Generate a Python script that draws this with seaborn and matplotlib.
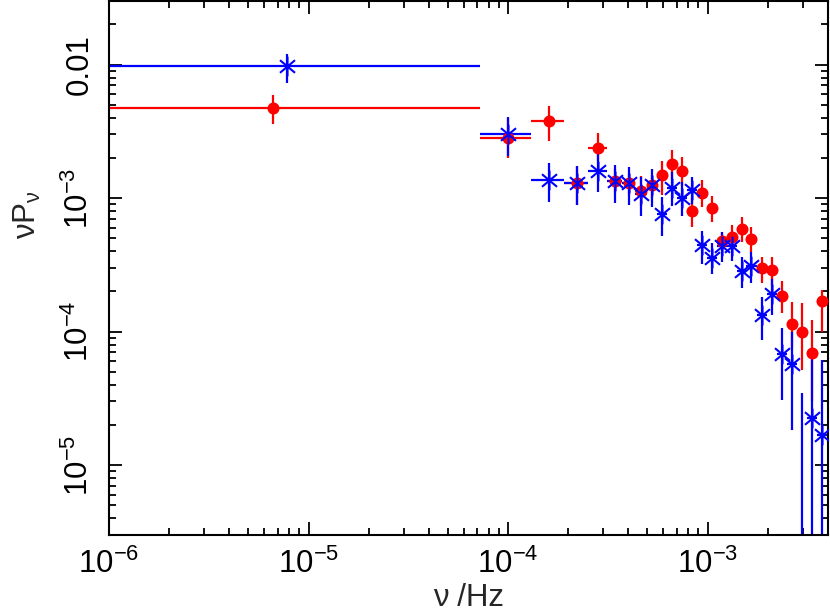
import numpy as np
import matplotlib
matplotlib.use("Agg")
import matplotlib.pyplot as plt
import seaborn as sns
from matplotlib.path import Path
from matplotlib.ticker import NullFormatter, LogLocator

# frequency bins (Hz): edges and centres
bin_edges = [1e-6, 7.2e-5, 1.31e-4, 1.91e-4, 2.52e-4, 3.13e-4, 3.74e-4, 4.34e-4,
             4.95e-4, 5.56e-4, 6.25e-4, 7.0e-4, 7.85e-4, 8.85e-4, 9.9e-4, 1.11e-3,
             1.25e-3, 1.4e-3, 1.56e-3, 1.76e-3, 1.98e-3, 2.22e-3, 2.49e-3, 2.8e-3,
             3.14e-3, 3.52e-3, 3.95e-3]
freq_red = [6.64e-6, 1.0e-4, 1.61e-4, 2.21e-4, 2.82e-4, 3.44e-4, 4.04e-4, 4.64e-4,
            5.25e-4, 5.89e-4, 6.62e-4, 7.43e-4, 8.34e-4, 9.35e-4, 1.05e-3, 1.18e-3,
            1.32e-3, 1.48e-3, 1.65e-3, 1.87e-3, 2.10e-3, 2.36e-3, 2.64e-3, 2.96e-3,
            3.33e-3, 3.73e-3]
freq_blue = [7.8e-6] + freq_red[1:]

# red series (filled circles)
nupnu_red = [4.75e-3, 2.83e-3, 3.78e-3, 1.31e-3, 2.37e-3, 1.35e-3, 1.29e-3, 1.13e-3,
             1.25e-3, 1.49e-3, 1.8e-3, 1.6e-3, 8.0e-4, 1.1e-3, 8.5e-4, 4.78e-4,
             5.15e-4, 5.9e-4, 4.98e-4, 3.01e-4, 2.89e-4, 1.84e-4, 1.15e-4, 1.0e-4,
             6.98e-5, 1.69e-4]
red_lo = [3.6e-3, 2.0e-3, 2.68e-3, 8.9e-4, 1.9e-3, 1.1e-3, 1.05e-3, 8.8e-4,
          1.0e-3, 1.05e-3, 1.39e-3, 1.23e-3, 6.05e-4, 8.55e-4, 6.6e-4, 4.0e-4,
          4.14e-4, 4.67e-4, 3.93e-4, 2.33e-4, 2.18e-4, 1.39e-4, 7.6e-5, 5.18e-5,
          3.0e-5, 1.0e-4]
red_hi = [5.94e-3, 4.0e-3, 4.92e-3, 1.74e-3, 3.08e-3, 1.65e-3, 1.55e-3, 1.46e-3,
          1.5e-3, 1.9e-3, 2.3e-3, 2.03e-3, 1.0e-3, 1.37e-3, 1.04e-3, 5.55e-4,
          6.27e-4, 7.2e-4, 6.05e-4, 3.6e-4, 3.6e-4, 2.38e-4, 1.68e-4, 1.65e-4,
          1.23e-4, 2.07e-4]

# blue series (asterisks)
nupnu_blue = [9.7e-3, 3.03e-3, 1.37e-3, 1.31e-3, 1.6e-3, 1.35e-3, 1.29e-3, 1.08e-3,
              1.25e-3, 7.6e-4, 1.2e-3, 9.96e-4, 1.16e-3, 4.43e-4, 3.58e-4, 4.37e-4,
              4.37e-4, 2.84e-4, 3.1e-4, 1.34e-4, 1.93e-4, 6.84e-5, 5.74e-5, 2.0e-6,
              2.24e-5, 1.68e-5]
blue_lo = [7.3e-3, 2.07e-3, 9.3e-4, 8.9e-4, 1.11e-3, 9.2e-4, 8.9e-4, 7.3e-4,
           8.55e-4, 5.2e-4, 8.7e-4, 7.3e-4, 9.0e-4, 3.19e-4, 2.69e-4, 3.3e-4,
           3.36e-4, 2.14e-4, 2.33e-4, 8.7e-5, 1.34e-4, 3.08e-5, 1.83e-5, 1e-7,
           1e-7, 1e-7]
blue_hi = [1.21e-2, 4.06e-3, 1.83e-3, 1.74e-3, 2.14e-3, 1.77e-3, 1.71e-3, 1.44e-3,
           1.65e-3, 1.02e-3, 1.57e-3, 1.32e-3, 1.44e-3, 5.65e-4, 4.59e-4, 5.55e-4,
           5.55e-4, 3.6e-4, 3.92e-4, 1.83e-4, 2.46e-4, 1.07e-4, 1.0e-4, 3.5e-5,
           6.49e-5, 6.15e-5]

x_ticks = [1e-6, 1e-5, 1e-4, 1e-3]
x_tick_labels = [r"$10^{-6}$", r"$10^{-5}$", r"$10^{-4}$", r"$10^{-3}$"]
y_ticks = [1e-5, 1e-4, 1e-3, 1e-2]
y_tick_labels = [r"$10^{-5}$", r"$10^{-4}$", r"$10^{-3}$", "0.01"]

sns.set_style("ticks")
plt.rcParams["font.family"] = ["Liberation Sans", "DejaVu Sans"]
plt.rcParams["mathtext.default"] = "regular"

# asterisk: vertical stroke plus two diagonals
c, s_ = np.cos(np.radians(40)), np.sin(np.radians(40))
asterisk = Path([(0, -1), (0, 1), (-c, -s_), (c, s_), (-c, s_), (c, -s_)],
                [Path.MOVETO, Path.LINETO] * 3)

fig = plt.figure(figsize=(8.3, 6.15), dpi=100)
ax = fig.add_axes([0.1313, 0.1301, 0.8659, 0.8683])

edges = np.array(bin_edges)
for freq, y, lo, hi, col, mk, ms in [
        (freq_red, nupnu_red, red_lo, red_hi, "#ff0000", "o", 75),
        (freq_blue, nupnu_blue, blue_lo, blue_hi, "#0000ff", asterisk, 200)]:
    f = np.array(freq)
    y = np.array(y)
    xerr = [f - edges[:-1], edges[1:] - f]
    yerr = [y - np.array(lo), np.array(hi) - y]
    ax.errorbar(f, y, xerr=xerr, yerr=yerr, fmt="none", ecolor=col,
                elinewidth=1.6, capsize=0)
    sns.scatterplot(x=f, y=y, ax=ax, color=col, marker=mk, s=ms,
                    linewidth=1.5 if mk != "o" else 0, edgecolor=col, zorder=3)

ax.set_xscale("log")
ax.set_yscale("log")
ax.set_xlim(1e-6, 4e-3)
ax.set_ylim(3e-6, 0.03)

ax.set_xticks(x_ticks)
ax.set_xticklabels(x_tick_labels)
ax.set_yticks(y_ticks)
ax.set_yticklabels(y_tick_labels, rotation=90, va="center")
ax.xaxis.set_minor_locator(LogLocator(base=10, subs=np.arange(2, 10)))
ax.yaxis.set_minor_locator(LogLocator(base=10, subs=np.arange(2, 10)))
ax.xaxis.set_minor_formatter(NullFormatter())
ax.yaxis.set_minor_formatter(NullFormatter())

ax.tick_params(which="both", direction="in", top=True, right=True,
               width=1.3, labelsize=22.5, colors="black")
ax.tick_params(which="major", length=9.5, pad=10)
ax.tick_params(which="minor", length=5)
for sp in ax.spines.values():
    sp.set_linewidth(1.5)
    sp.set_color("black")

ax.set_xlabel(r"ν /Hz", fontsize=22.5, labelpad=2)
ax.set_ylabel(r"νP$_{ν}$", fontsize=22.5, va="center")
ax.yaxis.set_label_coords(-0.113, 0.60)

fig.savefig("out.png", dpi=100)
